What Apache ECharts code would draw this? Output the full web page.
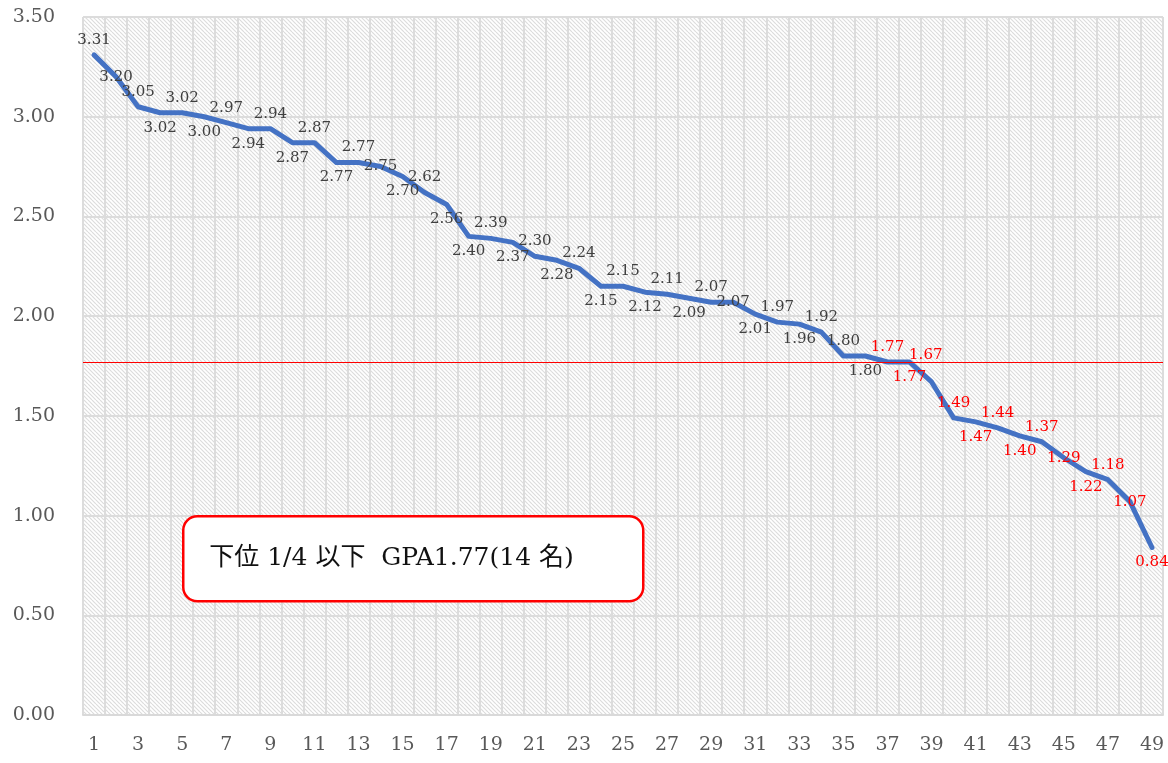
<!DOCTYPE html>
<html>
<head>
<meta charset="utf-8">
<script src="https://cdn.jsdelivr.net/npm/echarts@6/dist/echarts.min.js"></script>
<style>
html,body{margin:0;padding:0;background:#fff;}
#container{width:1168px;height:763px;}
</style>
</head>
<body>
<div id="container"></div>
<script>
// 順位 1..49
var ranks = [];
for (var r = 1; r <= 49; r++) { ranks.push(String(r)); }
// GPA
var gpa = [3.31,3.20,3.05,3.02,3.02,3.00,2.97,2.94,2.94,2.87,
           2.87,2.77,2.77,2.75,2.70,2.62,2.56,2.40,2.39,2.37,
           2.30,2.28,2.24,2.15,2.15,2.12,2.11,2.09,2.07,2.07,
           2.01,1.97,1.96,1.92,1.80,1.80,1.77,1.77,1.67,1.49,
           1.47,1.44,1.40,1.37,1.29,1.22,1.18,1.07,0.84];
var border = 1.77;
var boxText = '下位 1/4 以下  GPA1.77(14 名)';

var serif = '"DejaVu Serif","Noto Sans CJK JP",serif';

// ラベル位置 (t:上, b:下, c:中, u:左上)
var labelSide = 't c t b t b t b t b t b t c b t b b t b t b t b t b t b t c b t b t t b t b u t b t b t c b t c b'.split(' ');

function hatch() {
    var c = document.createElement('canvas');
    c.width = 8; c.height = 8;
    var g = c.getContext('2d');
    g.fillStyle = '#ffffff';
    g.fillRect(0, 0, 8, 8);
    g.strokeStyle = '#dcdcdc';
    g.lineWidth = 1.2;
    for (var o = -8; o <= 8; o += 4) {
        g.beginPath();
        g.moveTo(o, 0);
        g.lineTo(o + 8, 8);
        g.stroke();
    }
    return c;
}

var seriesData = [];
for (var i = 0; i < gpa.length; i++) {
    var s = labelSide[i];
    var lb = {
        position: s === 'b' ? 'bottom' : (s === 'c' ? 'inside' : 'top'),
        distance: 7,
        color: gpa[i] <= border ? '#ff0000' : '#404040'
    };
    if (s === 'c') lb.offset = [0, -5];
    if (s === 'u') lb.position = [-22, -34];
    seriesData.push({ value: gpa[i], label: lb });
}

var myChart = echarts.init(document.getElementById('container'));
var option = {
    animation: false,
    grid: {
        left: 83, right: 5, top: 17, bottom: 48,
        show: true,
        borderWidth: 0,
        backgroundColor: { image: hatch(), repeat: 'repeat' }
    },
    xAxis: {
        type: 'category',
        data: ranks,
        boundaryGap: true,
        axisLine: { lineStyle: { color: '#d9d9d9', width: 2 } },
        axisTick: { show: false },
        axisLabel: { interval: 1, margin: 21, fontFamily: serif, fontSize: 19, color: '#595959' },
        splitLine: { show: true, interval: 0, lineStyle: { color: '#dcdcdc', width: 2 } }
    },
    yAxis: {
        type: 'value',
        min: 0, max: 3.5, interval: 0.5,
        axisLine: { show: false },
        axisTick: { show: false },
        axisLabel: {
            margin: 28, fontFamily: serif, fontSize: 19, color: '#595959',
            formatter: function (v) { return v.toFixed(2); }
        },
        splitLine: { lineStyle: { color: '#dcdcdc', width: 2 } }
    },
    series: [{
        type: 'line',
        data: seriesData,
        showSymbol: true,
        symbol: 'circle',
        symbolSize: 1,
        itemStyle: { color: 'rgba(0,0,0,0)' },
        lineStyle: { color: '#4472c4', width: 5, join: 'round', cap: 'round' },
        label: {
            show: true,
            fontFamily: serif,
            fontSize: 15,
            formatter: function (p) { return p.value.toFixed(2); }
        },
        labelLayout: { hideOverlap: false },
        markLine: {
            silent: true,
            symbol: 'none',
            label: { show: false },
            lineStyle: { color: '#ff0000', width: 1, type: 'solid' },
            data: [{ yAxis: border }]
        }
    }],
    graphic: [{
        type: 'group',
        left: 182, top: 515,
        z: 100,
        children: [{
            type: 'rect',
            z: 100,
            shape: { x: 0, y: 0, width: 460, height: 85, r: 14 },
            style: { fill: '#ffffff', stroke: '#ff0000', lineWidth: 2.5 }
        }, {
            type: 'text',
            z: 101,
            x: 26, y: 42,
            style: {
                text: boxText,
                font: '25px ' + serif,
                fill: '#111111',
                verticalAlign: 'middle'
            }
        }]
    }]
};
myChart.setOption(option);
</script>
</body>
</html>
